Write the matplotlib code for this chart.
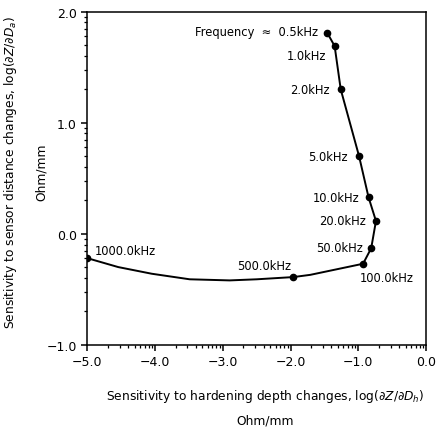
import numpy as np
import matplotlib
matplotlib.use("Agg")
import matplotlib.pyplot as plt
from matplotlib.ticker import FixedLocator, NullFormatter

# frequency points (x = log dZ/dDh, y = log dZ/dDa)
freq_labels = ["Frequency  \u2248  0.5kHz", "1.0kHz", "2.0kHz", "5.0kHz", "10.0kHz",
               "20.0kHz", "50.0kHz", "100.0kHz", "500.0kHz", "1000.0kHz"]
freq_x = [-1.46, -1.35, -1.26, -0.99, -0.85, -0.74, -0.81, -0.93, -1.96, -5.00]
freq_y = [1.81, 1.69, 1.30, 0.70, 0.33, 0.115, -0.13, -0.27, -0.39, -0.22]

# extra points read along the drawn curve between 100 and 1000 kHz
curve_x_100_500 = [-1.71]
curve_y_100_500 = [-0.37]
curve_x_500_1000 = [-2.50, -2.90, -3.49, -4.05, -4.545]
curve_y_500_1000 = [-0.41, -0.42, -0.41, -0.36, -0.30]

# label offsets in pixels from each marker, and alignment
label_dx = [-9, -8, -11, -11, -9, -10, -8, -3, -2, 7]
label_dy = [1, -9, 0, 0, 0, 0, 1, -14, 12, 8]
label_ha = ["right"] * 7 + ["left", "right", "left"]

line_x = freq_x[:8] + curve_x_100_500 + [freq_x[8]] + curve_x_500_1000 + [freq_x[9]]
line_y = freq_y[:8] + curve_y_100_500 + [freq_y[8]] + curve_y_500_1000 + [freq_y[9]]

plt.rcParams['font.family'] = ['DejaVu Sans']

fig = plt.figure(figsize=(4.37, 4.35), dpi=100)
ax = fig.add_axes([0.200, 0.205, 0.775, 0.766])

ax.plot(line_x, line_y, color='black', lw=1.4, solid_capstyle='round')
ax.plot(freq_x, freq_y, 'o', color='black', ms=4.5)

for lab, x, y, dx, dy, ha in zip(freq_labels, freq_x, freq_y, label_dx, label_dy, label_ha):
    ax.annotate(lab, (x, y), xytext=(dx, dy), textcoords='offset pixels',
                ha=ha, va='center', fontsize=8.3)

ax.set_xlim(-5, 0)
ax.set_ylim(-1, 2)
ax.set_xticks([-5, -4, -3, -2, -1, 0])
ax.set_xticklabels(["\u22125.0", "\u22124.0", "\u22123.0", "\u22122.0", "\u22121.0", "0.0"])
ax.set_yticks([-1, 0, 1, 2])
ax.set_yticklabels(["\u22121.0", "0.0", "1.0", "2.0"])

k = np.arange(2, 10)
xminor = np.concatenate([d + np.log10(k) for d in range(-5, 0)])
yminor = np.concatenate([d + np.log10(k) for d in range(-1, 2)])
ax.xaxis.set_minor_locator(FixedLocator(xminor))
ax.yaxis.set_minor_locator(FixedLocator(yminor))
ax.xaxis.set_minor_formatter(NullFormatter())
ax.yaxis.set_minor_formatter(NullFormatter())

ax.tick_params(which='major', direction='out', length=4.5, width=1.1, labelsize=9, pad=3)
ax.tick_params(which='minor', direction='out', length=2.2, width=0.9)
ax.tick_params(top=False, right=False)
for s in ax.spines.values():
    s.set_linewidth(1.1)

ax.set_xlabel("Sensitivity to hardening depth changes, log($\\partial Z/\\partial D_h$)\nOhm/mm",
              fontsize=8.8, linespacing=1.9)
ax.xaxis.set_label_coords(0.525, -0.128)
ax.set_ylabel("Sensitivity to sensor distance changes, log($\\partial Z/\\partial D_a$)\nOhm/mm",
              fontsize=8.8, linespacing=2.5)
ax.yaxis.set_label_coords(-0.118, 0.52)

fig.savefig("out.png", dpi=100)
